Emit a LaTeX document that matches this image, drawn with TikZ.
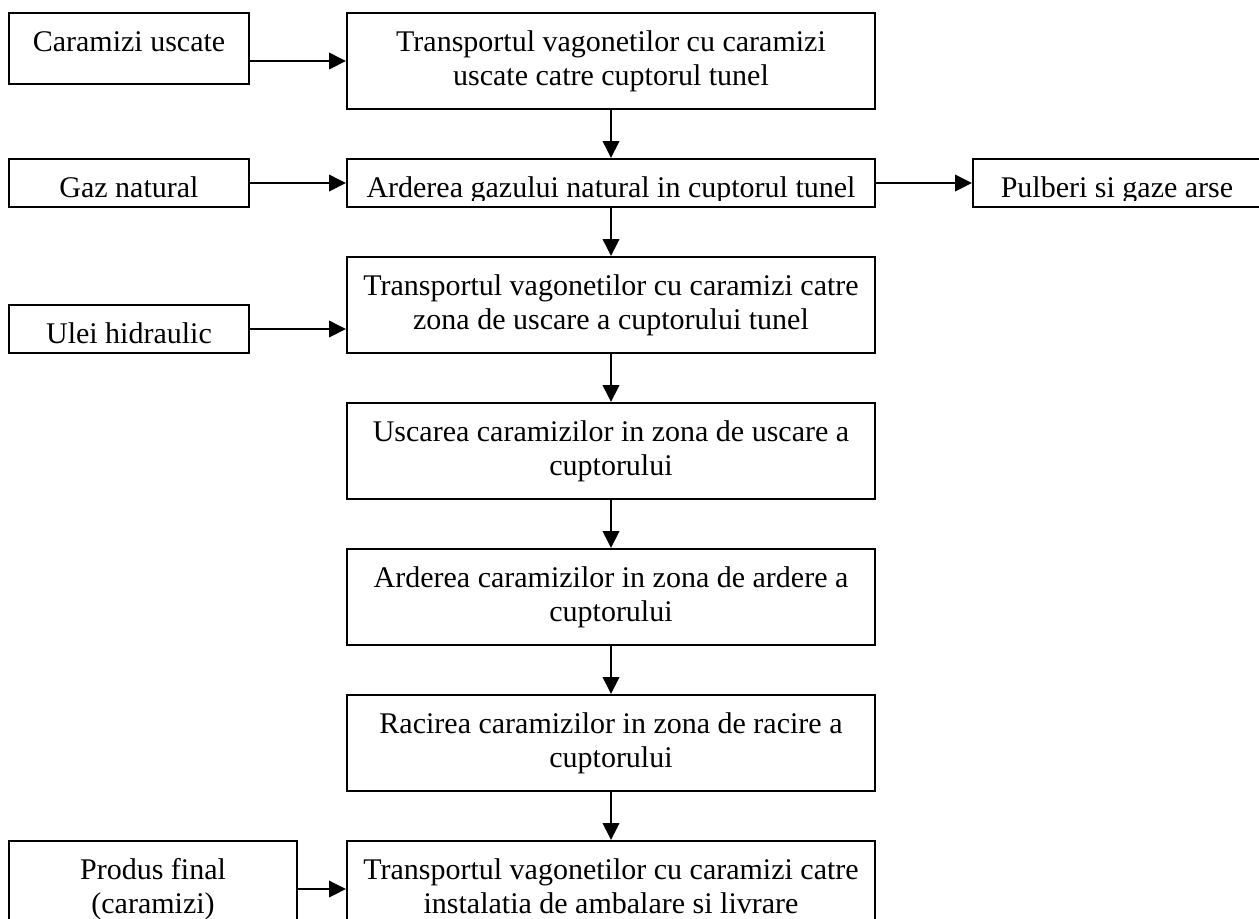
\documentclass[tikz,border=0pt]{standalone}
\usepackage{fontspec}
\setmainfont{Liberation Serif}
\usepackage{tikz}
\usetikzlibrary{positioning,arrows.meta}
\newcommand{\boxfont}{\fontsize{12pt}{13.8pt}\selectfont}
\tikzset{
  line/.style={-{Triangle[length=6.8pt, width=6.6pt]}, line width=0.8pt},
  box/.style={draw, line width=0.8pt, align=flush center, inner xsep=2pt, inner ysep=0pt, text height=15.2pt, font=\boxfont},
  stagebox/.style={box, text width=207.2pt, text depth=23.2pt},
  flatbox/.style={box, text width=207.2pt, text depth=4pt},
  inbox/.style={box, text width=92pt, text depth=4pt},
  outbox/.style={box, text width=111.2pt, text depth=4pt},
  cuttext/.style={path picture={
      \clip (path picture bounding box.north west) rectangle ([yshift=2.6pt]path picture bounding box.south east);
      \node[draw=none, font=\boxfont, anchor=base] (cut) at ([yshift=4pt]path picture bounding box.south) {#1};}}
}
\begin{document}
\begin{tikzpicture}[node distance=19.2pt]
  \useasboundingbox (0,0) rectangle (503.6pt,-367.2pt);
  \node[stagebox, anchor=north west] (trans1) at (138.4pt,-4.8pt) {Transportul vagonetilor cu caramizi\\uscate catre cuptorul tunel};
  \node[flatbox, cuttext={Arderea gazului natural in cuptorul tunel}, below=of trans1] (gas) {};
  \node[stagebox, below=of gas] (trans2) {Transportul vagonetilor cu caramizi catre\\zona de uscare a cuptorului tunel};
  \node[stagebox, below=of trans2] (dry) {Uscarea caramizilor in zona de uscare a\\cuptorului};
  \node[stagebox, below=of dry] (fire) {Arderea caramizilor in zona de ardere a\\cuptorului};
  \node[stagebox, below=of fire] (cool) {Racirea caramizilor in zona de racire a\\cuptorului};
  \node[stagebox, below=of cool] (pack) {Transportul vagonetilor cu caramizi catre\\instalatia de ambalare si livrare};

  \node[inbox, text depth=13.2pt, below left=0pt and 38.4pt of trans1.north west] (bricks) {Caramizi uscate};
  \node[inbox, left=38.4pt of gas] (fuel) {Gaz natural};
  \node[inbox, above left=0pt and 38.4pt of trans2.south west] (oil) {Ulei hidraulic};
  \node[outbox, text depth=23.2pt, below left=0pt and 19.2pt of pack.north west] (product) {Produs final\\(caramizi)};
  \node[outbox, cuttext={Pulberi si gaze arse}, right=38.4pt of gas] (dust) {};

  \draw[line] (bricks.east |- trans1.west) -- (trans1.west);
  \draw[line] (fuel) -- (gas);
  \draw[line] (gas) -- (dust);
  \draw[line] (oil.east) -- (oil.east -| trans2.west);
  \draw[line] (product) -- (pack);
  \draw[line] (trans1) -- (gas);
  \draw[line] (gas) -- (trans2);
  \draw[line] (trans2) -- (dry);
  \draw[line] (dry) -- (fire);
  \draw[line] (fire) -- (cool);
  \draw[line] (cool) -- (pack);
\end{tikzpicture}
\end{document}
